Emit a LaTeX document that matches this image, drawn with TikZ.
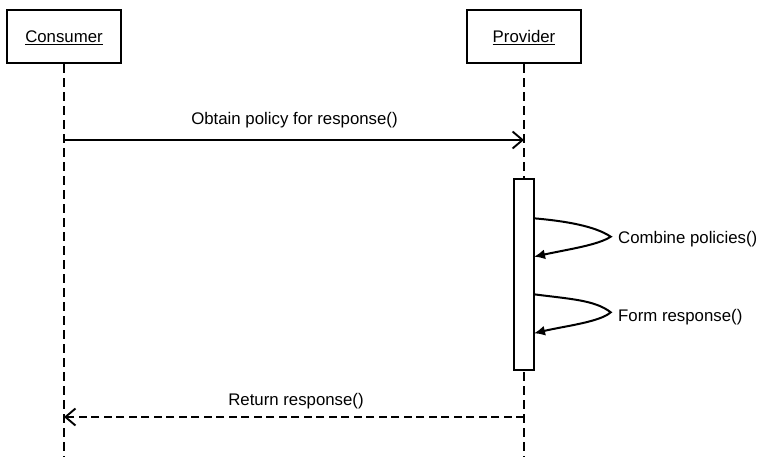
\documentclass[tikz,border=0pt]{standalone}
\usepackage{fontspec}
\setmainfont{Liberation Sans}
\usetikzlibrary{arrows.meta}
\begin{document}
\begin{tikzpicture}[x=1pt,y=-1pt,
  every node/.style={font=\fontsize{16.8}{20}\selectfont},
  actor/.style={draw,line width=2pt,minimum width=114pt,minimum height=53.5pt,inner sep=0pt,fill=white},
  actlabel/.style={inner sep=0pt,anchor=base},
  underline/.style={line width=1.4pt},
  lifeline/.style={line width=2pt,dash pattern=on 9pt off 5pt},
  activation/.style={draw,line width=2pt,fill=white,minimum width=20pt,minimum height=191pt,inner sep=0pt},
  call/.style={line width=1.9pt,-{Straight Barb[length=10pt,width=17pt]}},
  reply/.style={call,dash pattern=on 8pt off 4.5pt},
  selfcall/.style={line width=2pt,-{Latex[length=11pt,width=10pt]}},
  msg/.style={inner sep=0pt,anchor=base},
]
\useasboundingbox (0,0) rectangle (759,457);

% participants
\node[actor] (consumer) at (64,36.3) {};
\node[actor] (provider) at (524,36.3) {};
\node[actlabel] (consumerlbl) at (64,42.3) {Consumer};
\node[actlabel] (providerlbl) at (524,42.3) {Provider};
\draw[underline] ([yshift=-2.2pt]consumerlbl.base west) -- ([yshift=-2.2pt]consumerlbl.base east);
\draw[underline] ([yshift=-2.2pt]providerlbl.base west) -- ([yshift=-2.2pt]providerlbl.base east);

% lifelines
\coordinate (cbottom) at (64,457);
\coordinate (pbottom) at (524,457);
\draw[lifeline] (consumer.south) -- (cbottom);
\draw[lifeline] (provider.south) -- (pbottom);

% activation bar on the provider
\node[activation] (act) at (524,274.5) {};

% request
\coordinate (m1a) at (64,140);
\coordinate (m1b) at (524,140);
\draw[call] (m1a) -- (m1b);
\node[msg] (m1lbl) at (294.5,125) {Obtain policy for response()};

% self calls
\coordinate (s1a) at (534,218.3);
\coordinate (s1t) at (610.7,236.7);
\coordinate (s1b) at (534,256.7);
\draw[selfcall] (s1a) .. controls (565,221) and (595,226) .. (s1t)
  .. controls (598,245) and (570,249) .. (s1b);
\node[msg,anchor=base west] (s1lbl) at (618,243) {Combine policies()};

\coordinate (s2a) at (534,294.3);
\coordinate (s2t) at (610.7,312.3);
\coordinate (s2b) at (534,333.3);
\draw[selfcall] (s2a) .. controls (570,299) and (595,300) .. (s2t)
  .. controls (600,322) and (565,326) .. (s2b);
\node[msg,anchor=base west] (s2lbl) at (618,321.7) {Form response()};

% reply
\coordinate (r1a) at (524,417);
\coordinate (r1b) at (64,417);
\draw[reply] (r1a) -- (r1b);
\node[msg] (r1lbl) at (296,405) {Return response()};
\end{tikzpicture}
\end{document}
